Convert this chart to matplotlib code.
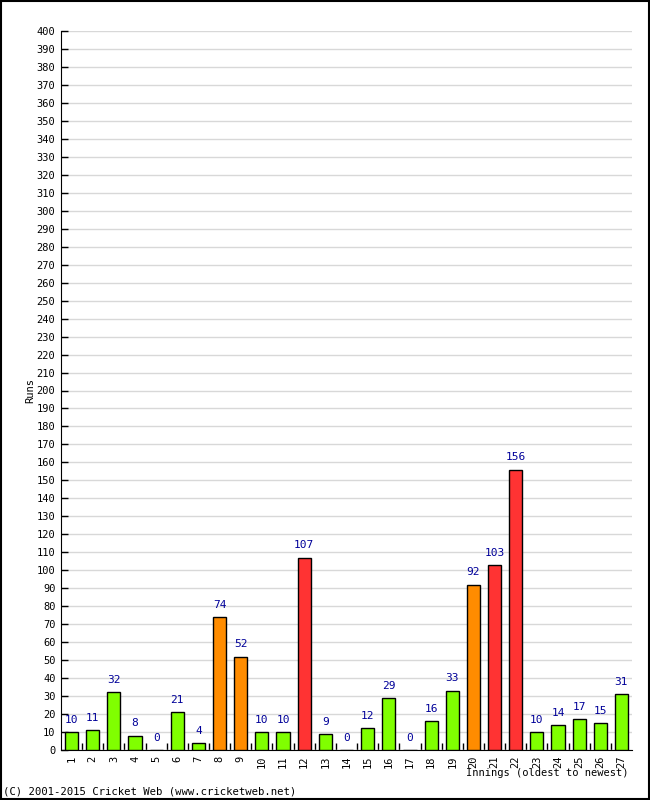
import matplotlib.pyplot as plt
from matplotlib.patches import Rectangle

innings = [str(i) for i in range(1, 28)]
runs = [10, 11, 32, 8, 0, 21, 4, 74, 52, 10, 10, 107, 9, 0, 12, 29, 0, 16, 33, 92, 103, 156, 10, 14, 17, 15, 31]
y_ticks = list(range(0, 401, 10))


def bar_colour(r):
    if r >= 100:
        return "#ff3333"
    if r >= 50:
        return "#ff8c00"
    return "#80ff00"


def main():
    plt.rcParams["font.family"] = "DejaVu Sans Mono"
    fig = plt.figure(figsize=(6.5, 8), dpi=100)
    ax = fig.add_axes([61 / 650, 50 / 800, 571 / 650, 719 / 800])

    xs = list(range(len(runs)))
    ax.bar(xs, runs, width=0.62, color=[bar_colour(r) for r in runs],
           edgecolor="black", linewidth=1, zorder=3)
    for x, r in zip(xs, runs):
        ax.text(x, r + 4, str(r), ha="center", va="bottom", fontsize=8,
                color="#000099", zorder=4)

    ax.set_xlim(-0.5, len(runs) - 0.5)
    ax.set_ylim(0, 400)
    ax.set_yticks(y_ticks)
    ax.set_yticklabels([str(v) for v in y_ticks], fontsize=7.5)
    ax.tick_params(axis="y", direction="in", length=5, width=1, pad=4)
    ax.set_xticks(xs)
    ax.set_xticklabels(innings, rotation=90, fontsize=7.5)
    ax.tick_params(axis="x", length=0, pad=4)
    # small separators between bars
    ax.set_xticks([x + 0.5 for x in xs[:-1]], minor=True)
    ax.tick_params(axis="x", which="minor", direction="in", length=5, width=1)

    ax.grid(axis="y", color="#d8d8d8", linewidth=1, zorder=0)
    ax.spines["top"].set_visible(False)
    ax.spines["right"].set_visible(False)

    ax.set_ylabel("Runs", fontsize=7.5)
    ax.yaxis.set_label_coords(-0.045, 0.5)
    fig.text(628 / 650, 1 - 773 / 800, "Innings (oldest to newest)", ha="right",
             va="center", fontsize=7.5)
    fig.text(3 / 650, 1 - 792 / 800, "(C) 2001-2015 Cricket Web (www.cricketweb.net)",
             ha="left", va="center", fontsize=7.7)

    fig.patches.append(Rectangle((0.001, 0.001), 0.998, 0.998, transform=fig.transFigure,
                                 fill=False, edgecolor="black", linewidth=1.5))
    fig.savefig("out.png", dpi=100)


if __name__ == "__main__":
    main()
